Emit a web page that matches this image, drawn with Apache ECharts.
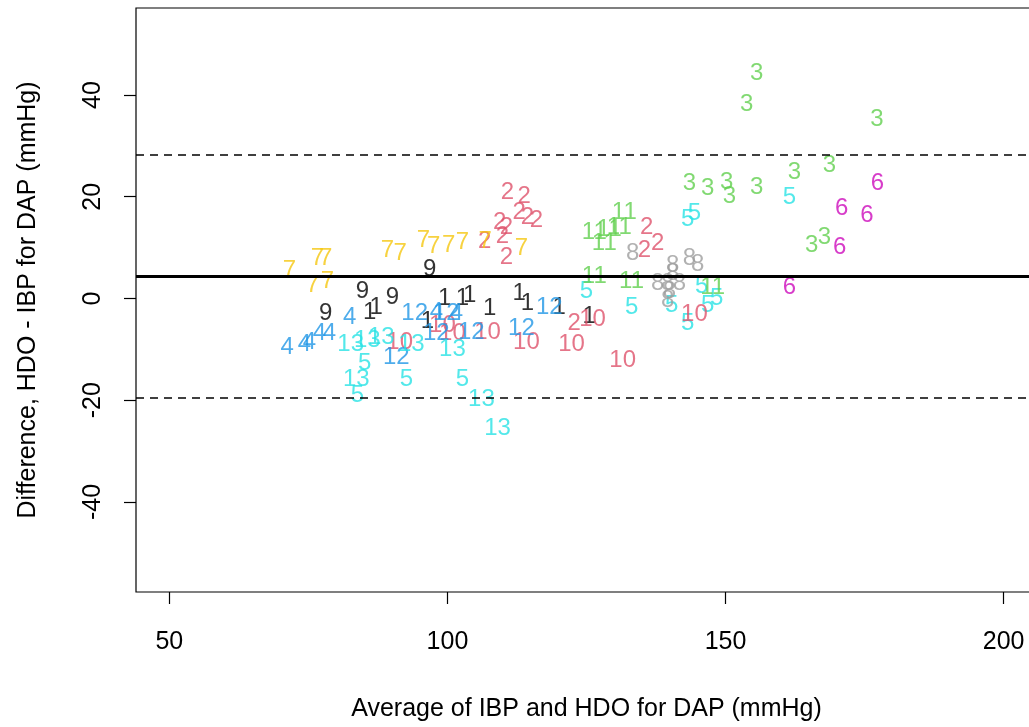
<!DOCTYPE html>
<html>
<head>
<meta charset="utf-8">
<script src="https://cdn.jsdelivr.net/npm/echarts@6/dist/echarts.min.js"></script>
<style>html,body{margin:0;padding:0;background:#fff;}#c{width:1029px;height:727px;}</style>
</head>
<body>
<div id="c"></div>
<script>
// Bland-Altman: [average, difference] per subject
const s1 = [[99.5,0.1],[102.7,0.1],[104.0,0.7],[107.6,-1.9],[112.9,1.1],[114.4,-0.9],[120.1,-1.7],[86.0,-2.7],[87.2,-1.7],[96.4,-4.6],[125.5,-3.6]];
const s2 = [[110.8,20.9],[113.8,20.0],[112.9,17.0],[114.4,16.0],[116.0,15.4],[109.4,15.0],[110.6,13.9],[109.9,12.3],[106.7,11.3],[110.6,8.0],[135.8,13.9],[135.4,9.5],[137.8,10.9],[122.8,-4.8]];
const s3 = [[155.6,44.3],[153.8,38.2],[177.2,35.3],[168.7,26.2],[162.4,24.7],[155.6,21.9],[150.2,22.9],[150.7,20.0],[143.5,22.7],[146.8,21.7],[165.5,10.5],[167.8,12.1]];
const s4 = [[71.2,-9.7],[74.3,-9.1],[75.2,-8.7],[77.0,-6.8],[78.8,-6.8],[82.4,-3.8],[98.0,-2.7],[101.6,-2.9]];
const s5 = [[125.0,1.3],[133.1,-1.7],[140.3,-1.3],[145.7,2.3],[148.4,0.1],[146.8,-1.3],[143.2,-4.8],[143.2,15.6],[144.4,16.8],[161.5,19.8],[85.1,-12.7],[92.6,-16.0],[102.7,-16.0],[83.8,-19.0]];
const s6 = [[177.3,22.7],[170.9,17.8],[175.4,16.4],[170.5,10.1],[161.5,2.1]];
const s7 = [[71.6,5.6],[76.6,7.8],[78.1,7.8],[75.7,2.5],[78.4,3.4],[89.2,9.5],[91.5,8.9],[95.7,11.5],[97.5,10.3],[100.2,10.5],[102.7,11.1],[106.8,11.3],[113.3,9.9]];
const s8 = [[133.3,8.9],[140.5,6.6],[140.5,5.0],[143.5,7.8],[145.0,6.8],[137.8,3.0],[139.6,3.0],[141.7,3.0],[139.9,1.3],[139.6,-0.3]];
const s9 = [[96.8,5.8],[84.7,1.3],[90.1,0.3],[78.1,-2.9]];
const s10 = [[91.4,-8.6],[99.1,-5.2],[100.9,-6.8],[107.2,-6.6],[114.2,-8.6],[122.3,-9.1],[126.1,-4.2],[131.5,-12.1],[144.4,-3.2]];
const s11 = [[131.8,17.0],[126.4,12.9],[129.1,13.5],[130.9,13.9],[128.2,10.9],[126.4,4.4],[133.1,3.4],[147.7,2.1]];
const s12 = [[94.1,-3.0],[99.8,-2.9],[90.8,-11.5],[104.3,-6.6],[113.3,-5.8],[118.3,-1.7],[98.0,-6.8]];
const s13 = [[83.6,-16.0],[106.1,-19.9],[109.0,-25.5],[82.6,-9.1],[85.6,-8.2],[88.1,-7.6],[93.5,-9.1],[100.9,-10.1]];

const subjects = [s1,s2,s3,s4,s5,s6,s7,s8,s9,s10,s11,s12,s13];
const palette = ['#000000','#DF536B','#61D04F','#2297E6','#28E2E5','#CD0BBC','#F5C710','#9E9E9E'];

const meanDiff = 4.4;
const upperLoA = 28.2;
const lowerLoA = -19.5;

const xTicks = [50,100,150,200];
const yTicks = [-40,-20,0,20,40];

const FONT = '"Liberation Sans", Arial, sans-serif';

const series = subjects.map((pts, i) => ({
  type: 'scatter',
  name: String(i + 1),
  data: pts,
  symbol: 'circle',
  symbolSize: 2,
  itemStyle: { color: 'rgba(0,0,0,0)' },
  silent: true,
  z: 3,
  label: {
    show: true,
    position: 'inside',
    formatter: String(i + 1),
    color: palette[i % 8],
    fontFamily: FONT,
    fontSize: 24
  },
  labelLayout: { hideOverlap: false }
}));

series.push({
  type: 'line',
  data: [],
  silent: true,
  z: 2,
  markLine: {
    silent: true,
    symbol: 'none',
    label: { show: false },
    data: [
      { yAxis: meanDiff, lineStyle: { color: '#000', width: 3, type: 'solid' } },
      { yAxis: upperLoA, lineStyle: { color: '#000', width: 1.5, type: [8, 6] } },
      { yAxis: lowerLoA, lineStyle: { color: '#000', width: 1.5, type: [8, 6] } }
    ]
  }
});

const chart = echarts.init(document.getElementById('c'), null, { renderer: 'canvas' });
chart.setOption({
  animation: false,
  backgroundColor: '#fff',
  grid: { left: 136, right: -8, top: 8, bottom: 135, show: true, borderColor: '#000', borderWidth: 1.2, backgroundColor: 'transparent', outerBoundsMode: 'none', containLabel: false },
  xAxis: {
    type: 'value', min: 44, max: 206,
    name: 'Average of IBP and HDO for DAP (mmHg)',
    nameLocation: 'middle', nameGap: 117,
    nameTextStyle: { fontFamily: FONT, fontSize: 25, color: '#000', verticalAlign: 'middle' },
    axisLine: { show: false, onZero: false },
    splitLine: { show: false },
    axisTick: { show: true, length: 12, lineStyle: { color: '#000', width: 1.2 }, customValues: xTicks },
    axisLabel: { fontFamily: FONT, fontSize: 25, color: '#000', margin: 38, customValues: xTicks }
  },
  yAxis: {
    type: 'value', min: -57.7, max: 57.1,
    name: 'Difference, HDO - IBP for DAP (mmHg)',
    nameLocation: 'middle', nameGap: 108, nameRotate: 90,
    nameTextStyle: { fontFamily: FONT, fontSize: 25, color: '#000', verticalAlign: 'middle' },
    axisLine: { show: false, onZero: false },
    splitLine: { show: false },
    axisTick: { show: true, length: 12, lineStyle: { color: '#000', width: 1.2 }, customValues: yTicks },
    axisLabel: { fontFamily: FONT, fontSize: 25, color: '#000', margin: 30, rotate: 90, customValues: yTicks }
  },
  series: series
});
</script>
</body>
</html>
